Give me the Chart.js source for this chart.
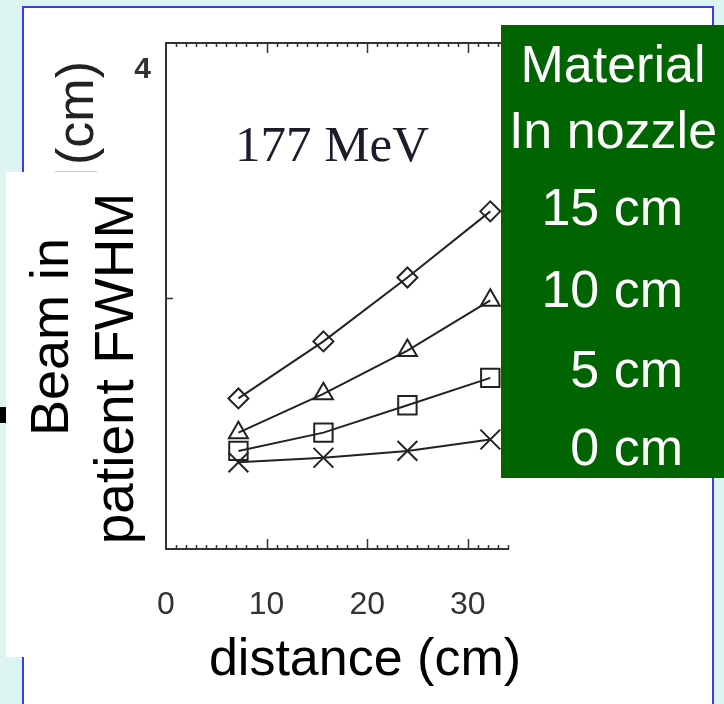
<!DOCTYPE html>
<html>
<head>
<meta charset="utf-8">
<script src="https://cdn.jsdelivr.net/npm/chart.js@4.4.1/dist/chart.umd.min.js"></script>
<style>
  html, body { margin:0; padding:0; }
  body { width:724px; height:704px; overflow:hidden; position:relative; background:#dcf5f1; font-family:"Liberation Sans", Arial, sans-serif; }
  #panel { position:absolute; left:22px; top:6px; width:692px; height:720px; box-sizing:border-box; border:2px solid #3a3af0; background:#fff; }
  #wrap { position:absolute; left:0; top:0; width:724px; height:704px; }
  .t { position:absolute; white-space:nowrap; line-height:1; }
  .rot { position:absolute; white-space:nowrap; line-height:1; text-align:center; transform:rotate(-90deg); transform-origin:50% 50%; }
</style>
</head>
<body>
<div id="panel"></div>
<div id="wrap"><canvas id="c" width="724" height="704"></canvas></div>

<!-- partly hidden original axis title -->
<div class="rot" style="left:-75px; top:87px; width:300px; height:52px; font-size:52px; color:#222;">(cm)</div>
<div style="position:absolute; left:55px; top:171px; width:42px; height:1px; background:#c8c8c8;"></div>
<!-- white box with overlay axis title -->
<div style="position:absolute; left:6px; top:172px; width:149px; height:485px; background:#fff;"></div>
<div style="position:absolute; left:0px; top:407px; width:6px; height:16px; background:#000;"></div>
<div class="rot" style="left:-151px; top:310px; width:400px; height:54px; font-size:54px; color:#000;">Beam in</div>
<div class="rot" style="left:-86px; top:341px; width:400px; height:55px; font-size:55px; color:#000;">patient FWHM</div>

<div class="t" style="left:132px; top:119px; width:400px; text-align:center; font-family:'Liberation Serif','Times New Roman',serif; font-size:51px; color:#1c1c2a;">177 MeV</div>

<div class="t" style="left:165px; top:631px; width:400px; text-align:center; font-size:52px; color:#000;">distance (cm)</div>

<!-- green legend box -->
<div style="position:absolute; left:501px; top:25px; width:223px; height:453px; background:#006400;"></div>
<div class="t" style="left:463px; top:38px; width:300px; text-align:center; font-size:52px; color:#fff;">Material</div>
<div class="t" style="left:463px; top:104px; width:300px; text-align:center; font-size:52px; color:#fff;">In nozzle</div>
<div class="t" style="left:383px; top:181px; width:300px; text-align:right; font-size:52px; color:#fff;">15 cm</div>
<div class="t" style="left:383px; top:263px; width:300px; text-align:right; font-size:52px; color:#fff;">10 cm</div>
<div class="t" style="left:383px; top:343px; width:300px; text-align:right; font-size:52px; color:#fff;">5 cm</div>
<div class="t" style="left:383px; top:421px; width:300px; text-align:right; font-size:52px; color:#fff;">0 cm</div>

<script>
// ---- data ----
const distances = [7.2, 15.65, 24.0, 32.24];
const fwhm15cm = [2.56, 2.81, 3.09, 3.38];
const fwhm10cm = [2.41, 2.58, 2.77, 2.99];
const fwhm5cm  = [2.33, 2.41, 2.53, 2.65];
const fwhm0cm  = [2.28, 2.30, 2.33, 2.38];
const seriesNames = ['15 cm', '10 cm', '5 cm', '0 cm'];
const xTickValues = [0, 10, 20, 30];
const yTickValues = [2, 3, 4];
const yInnerTickValues = [3];
const xMin = 0, xMax = 34.1;
const yMin = 1.9, yMax = 4.118;

const toPts = ys => distances.map((d, i) => ({ x: d, y: ys[i] }));

const ink = '#222';
function ds(label, ys, style, radius) {
  return {
    label, data: toPts(ys), showLine: true, tension: 0,
    borderColor: ink, borderWidth: 2,
    pointStyle: style, pointRadius: radius, pointHoverRadius: radius,
    pointBorderColor: ink, pointBorderWidth: 2,
    pointBackgroundColor: 'rgba(0,0,0,0)'
  };
}

const framePlugin = {
  id: 'frame',
  beforeDatasetsDraw(chart) {
    const { ctx, chartArea: a, scales: { x, y } } = chart;
    ctx.save();
    ctx.strokeStyle = '#333';
    ctx.lineWidth = 2;
    ctx.beginPath();
    ctx.moveTo(a.right, a.top); ctx.lineTo(a.left, a.top);
    ctx.lineTo(a.left, a.bottom); ctx.lineTo(a.right, a.bottom);
    ctx.stroke();
    ctx.lineWidth = 1.5;
    ctx.beginPath();
    for (let v = Math.ceil(xMin) + 1; v <= xMax; v++) {
      const px = Math.round(x.getPixelForValue(v)) + 0.5;
      const len = (v % 10 === 0) ? 10 : 4;
      ctx.moveTo(px, a.top); ctx.lineTo(px, a.top + len);
      ctx.moveTo(px, a.bottom); ctx.lineTo(px, a.bottom - len);
    }
    yInnerTickValues.forEach(v => {
      const py = Math.round(y.getPixelForValue(v)) + 0.5;
      ctx.moveTo(a.left, py); ctx.lineTo(a.left + 7, py);
    });
    ctx.stroke();
    ctx.restore();
  }
};

new Chart(document.getElementById('c'), {
  type: 'scatter',
  data: {
    datasets: [
      ds(seriesNames[0], fwhm15cm, 'rectRot', 10),
      ds(seriesNames[1], fwhm10cm, 'triangle', 11),
      ds(seriesNames[2], fwhm5cm, 'rect', 13),
      ds(seriesNames[3], fwhm0cm, 'crossRot', 14)
    ]
  },
  options: {
    responsive: false, animation: false, devicePixelRatio: 1,
    layout: { padding: { left: 0, top: 43, right: 215, bottom: 0 } },
    plugins: { legend: { display: false }, tooltip: { enabled: false } },
    scales: {
      x: {
        type: 'linear', min: xMin, max: xMax,
        grid: { display: false }, border: { display: false },
        afterBuildTicks: s => { s.ticks = xTickValues.map(v => ({ value: v })); },
        afterFit: s => { s.height = 155; },
        ticks: { font: { family: 'Liberation Sans, Arial, sans-serif', size: 32 }, color: '#333', padding: 29, maxRotation: 0 }
      },
      y: {
        type: 'linear', min: yMin, max: yMax,
        grid: { display: false }, border: { display: false },
        afterBuildTicks: s => { s.ticks = yTickValues.map(v => ({ value: v })); },
        afterFit: s => { s.width = 166; },
        ticks: { font: { family: 'Liberation Sans, Arial, sans-serif', size: 30, weight: 'bold' }, color: '#333', padding: 7 }
      }
    }
  },
  plugins: [framePlugin]
});
</script>
</body>
</html>
